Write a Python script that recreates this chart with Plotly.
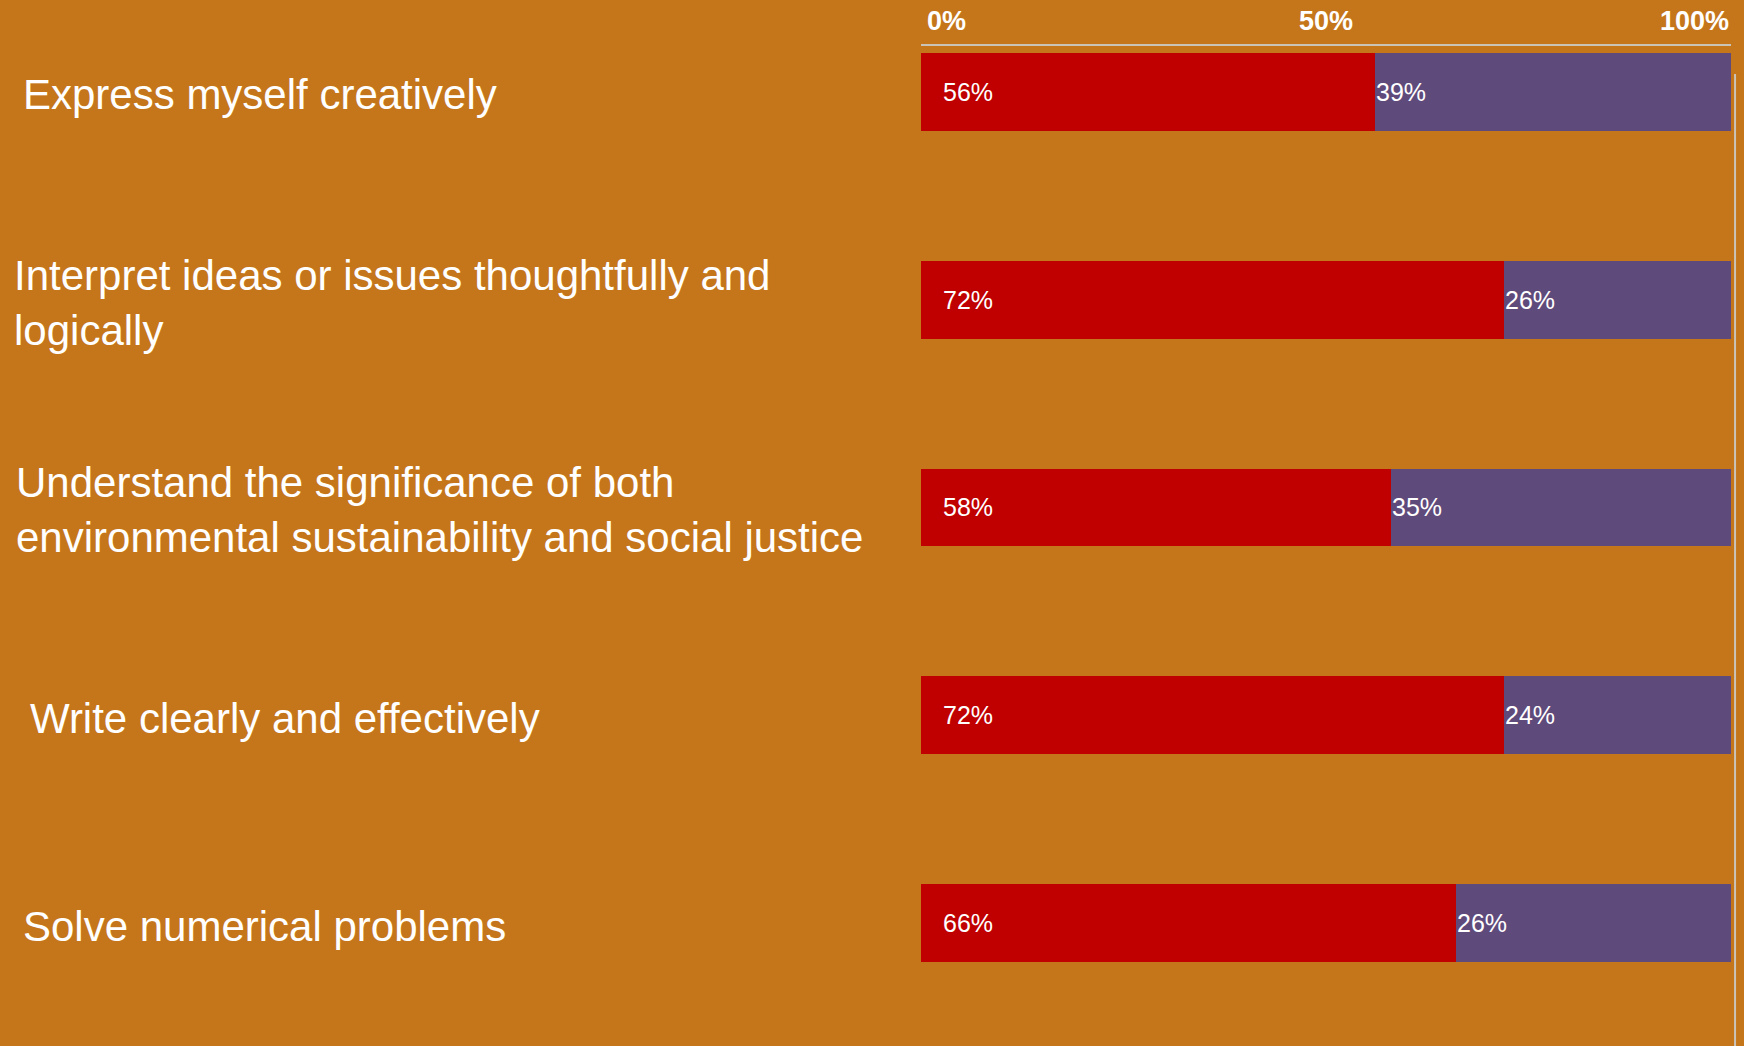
import plotly.graph_objects as go

categories = [
    "Express myself creatively",
    "Interpret ideas or issues thoughtfully and<br>logically",
    "Understand the significance of both<br>environmental sustainability and social justice",
    "Write clearly and effectively",
    "Solve numerical problems",
]
series_red = [56, 72, 58, 72, 66]
series_purple = [39, 26, 35, 24, 26]
series_rest = [5, 2, 7, 4, 8]
tick_vals = [0, 50, 100]
tick_text = ["0%", "50%", "100%"]

RED = "#C00000"
PURPLE = "#5F4B7B"
BG = "#C5761A"
W, H = 1744, 1046
L, R, T = 921, 13, 46
label_px = [21, 12, 14, 28, 21]

ypos = list(range(len(categories)))

fig = go.Figure()
fig.add_trace(go.Bar(y=ypos, x=series_red, orientation="h", marker=dict(color=RED, line=dict(width=0)),
                     width=0.375, hoverinfo="skip", showlegend=False))
fig.add_trace(go.Bar(y=ypos, x=series_purple, orientation="h", marker=dict(color=PURPLE, line=dict(width=0)),
                     width=0.375, hoverinfo="skip", showlegend=False))
fig.add_trace(go.Bar(y=ypos, x=series_rest, orientation="h", marker=dict(color=PURPLE, line=dict(width=0)),
                     width=0.375, hoverinfo="skip", showlegend=False))

ann = []
pw = W - L - R
for i, (c, r, p) in enumerate(zip(categories, series_red, series_purple)):
    ann.append(dict(x=(label_px[i] - L) / pw, xref="paper", y=i, yref="y", text=c, showarrow=False,
                    xanchor="left", yanchor="middle", align="left", yshift=-3,
                    font=dict(family="Liberation Sans, Arial", size=42, color="white")))
    ann.append(dict(x=0, xref="x", y=i, yref="y", text=f"{r}%", showarrow=False, xanchor="left",
                    xshift=20, yanchor="middle",
                    font=dict(family="Liberation Sans, Arial", size=25, color="white")))
    ann.append(dict(x=r, xref="x", y=i, yref="y", text=f"{p}%", showarrow=False, xanchor="left",
                    xshift=-1, yanchor="middle",
                    font=dict(family="Liberation Sans, Arial", size=25, color="white")))
anchors = ["left", "center", "right"]
for v, t, a in zip(tick_vals, tick_text, anchors):
    ann.append(dict(x=v, xref="x", y=1, yref="paper", yanchor="bottom", yshift=8, text=f"<b>{t}</b>",
                    showarrow=False, xanchor=a, xshift=(4 if a == "left" else 0),
                    font=dict(family="Liberation Sans, Arial", size=27, color="white")))

fig.update_layout(
    width=W, height=H, barmode="stack", bargap=0,
    paper_bgcolor=BG, plot_bgcolor=BG,
    margin=dict(l=L, r=R, t=T, b=0, pad=0),
    annotations=ann,
    xaxis=dict(range=[0, 100], side="top", showgrid=False, zeroline=False, showticklabels=False,
               showline=True, linecolor="#C9C3B8", linewidth=2, ticks="", fixedrange=True),
    yaxis=dict(range=[4.592, -0.221], showgrid=False, zeroline=False, showticklabels=False,
               showline=False, ticks="", fixedrange=True),
    shapes=[dict(type="line", xref="paper", yref="paper", x0=1.005, x1=1.005, y0=0, y1=0.972,
                 line=dict(color="#C9C3B8", width=2))],
)

fig.write_html("out.html", config={"displayModeBar": False},
               post_script="document.body.style.margin='0';document.body.style.padding='0';"
                           "document.body.style.overflow='hidden';document.body.style.background='" + BG + "';")
